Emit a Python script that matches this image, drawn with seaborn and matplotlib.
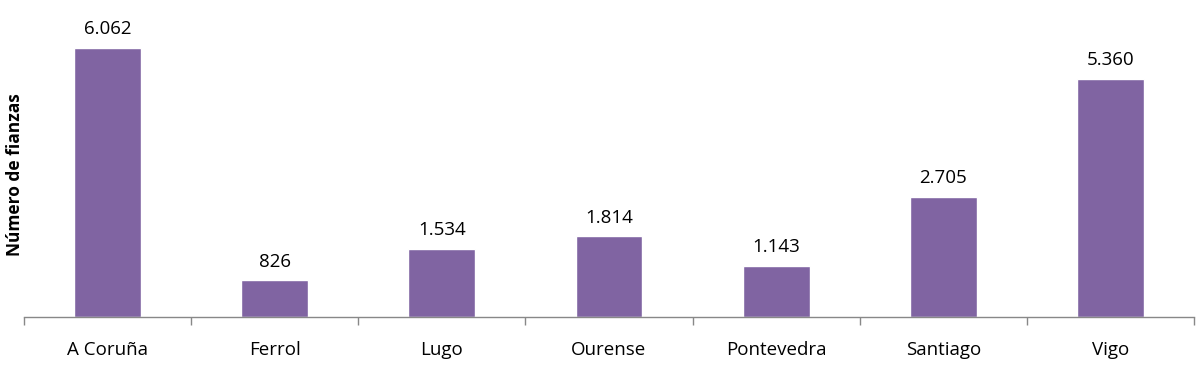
import matplotlib
matplotlib.use("Agg")
import matplotlib.pyplot as plt
import seaborn as sns
import pandas as pd
import numpy as np

categories = ["A Coruña", "Ferrol", "Lugo", "Ourense", "Pontevedra", "Santiago", "Vigo"]
values = [6062, 826, 1534, 1814, 1143, 2705, 5360]
value_labels = ["6.062", "826", "1.534", "1.814", "1.143", "2.705", "5.360"]

sns.set_theme(style="white")
plt.rcParams['font.family'] = ['Open Sans', 'DejaVu Sans']

df = pd.DataFrame({"cat": categories, "val": values})

fig = plt.figure(figsize=(12, 3.69), dpi=100)
ax = fig.add_axes([0.02, 0.141, 0.975, 0.859])
sns.barplot(data=df, x="cat", y="val", color="#8064A2", width=0.4, saturation=1, ax=ax)

ax.set_ylim(0, 7144)
ax.set_xlim(-0.5, len(categories) - 0.5)
for i, (v, lab) in enumerate(zip(values, value_labels)):
    ax.text(i, v + 220, lab, ha="center", va="bottom", fontsize=13.5, color="#000000")

for s in ["top", "right", "left"]:
    ax.spines[s].set_visible(False)
ax.spines["bottom"].set_color("#888888")
ax.spines["bottom"].set_linewidth(1)
ax.set_yticks([])
ax.set_xlabel("")
ax.set_ylabel("")
fig.text(15 / 1200, 1 - 175 / 369, "Número de fianzas", rotation=90, ha="center", va="center",
         fontsize=12.5, fontweight="bold", color="#000000")
ax.set_xticks(range(len(categories)))
ax.set_xticklabels(categories, fontsize=13.5, color="#000000")
ax.tick_params(axis="x", which="major", length=0, pad=17)
ax.set_xticks(np.arange(-0.5, len(categories)), minor=True)
ax.tick_params(axis="x", which="minor", bottom=True, length=6, color="#888888", width=1, direction="out")

fig.savefig("out.png", dpi=100)
